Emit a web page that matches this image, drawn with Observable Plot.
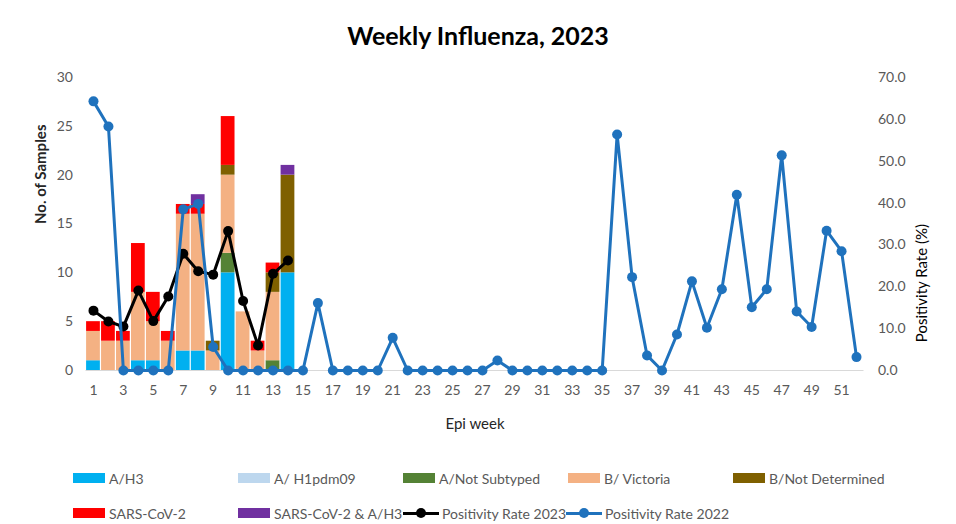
<!DOCTYPE html>
<html>
<head>
<meta charset="utf-8">
<script src="https://cdn.jsdelivr.net/npm/d3@7"></script>
<script src="https://cdn.jsdelivr.net/npm/@observablehq/plot@0.6"></script>
<style>
  body { margin: 0; background: #fff; font-family: Lato, "Liberation Sans", sans-serif; }
  #wrap { width: 956px; height: 524px; position: relative; overflow: hidden; }
  #title { height: 60px; line-height: 70px; text-align: center; font-weight: bold; font-size: 25px; color: #000; }
  #legend { position: absolute; left: 0; top: 0; width: 956px; height: 524px; pointer-events: none; }
  .item { position: absolute; display: flex; align-items: center; font-size: 14px; color: #595959; white-space: nowrap; height: 20px; }
  .sw { width: 32px; height: 10px; margin-right: 4px; }
  .ln { width: 36px; height: 12px; margin-right: 3px; position: relative; }
  .ln i { position: absolute; left: 0; right: 0; top: 5px; height: 3px; }
  .ln b { position: absolute; left: 13px; top: 1px; width: 10px; height: 10px; border-radius: 50%; }
</style>
</head>
<body>
<div id="wrap">
  <div id="title">Weekly Influenza, 2023</div>
  <div id="chart"></div>
  <div id="legend"></div>
</div>
<script>
const weeks = d3.range(1, 53);
const barWeeks = [1,2,3,4,5,6,7,8,9,10,11,12,13,14];
const seriesNames = ["A/H3", "A/ H1pdm09", "A/Not Subtyped", "B/ Victoria", "B/Not Determined", "SARS-CoV-2", "SARS-CoV-2 & A/H3"];
const seriesColors = ["#00b0f0", "#bdd7ee", "#548235", "#f4b183", "#7f6000", "#ff0000", "#7030a0"];
// counts per week 1..14
const aH3        = [1,0,0,1,1,0,2,2,0,10,0,0,0,10];
const aH1pdm09   = [0,0,0,0,0,0,0,0,0,0,0,0,0,0];
const aNotSub    = [0,0,0,0,0,0,0,0,0,2,0,0,1,0];
const bVictoria  = [3,3,3,7,4,3,14,14,2,8,6,2,7,0];
const bNotDet    = [0,0,0,0,0,0,0,0,1,1,0,0,2,10];
const sarsCov2   = [1,2,1,5,3,1,1,1,0,5,0,1,1,0];
const sarsAndH3  = [0,0,0,0,0,0,0,1,0,0,0,0,0,1];
const seriesValues = [aH3, aH1pdm09, aNotSub, bVictoria, bNotDet, sarsCov2, sarsAndH3];

const pos2023 = [14.3,11.7,10.5,19.1,11.8,17.7,27.9,23.7,22.9,33.3,16.6,6.0,23.1,26.3];
const pos2022 = [64.3,58.3,0,0,0,0,38.5,39.8,5.6,0,0,0,0,0,0,16.1,0,0,0,0,7.8,0,0,0,0,0,0,2.4,0,0,0,0,0,0,0,56.4,22.3,3.6,0,8.6,21.3,10.2,19.4,42.0,15.1,19.4,51.4,14.1,10.4,33.4,28.5,3.2];

const xTicks = d3.range(1, 52, 2);
const yTicks = [0,5,10,15,20,25,30];
const rTicks = [0,10,20,30,40,50,60,70];

const K = 30 / 70; // right axis -> left axis units

// stacked rows
const rows = [];
barWeeks.forEach((w, i) => {
  let acc = 0;
  seriesNames.forEach((s, j) => {
    const v = seriesValues[j][i];
    if (v > 0) rows.push({week: w, series: s, y1: acc, y2: acc + v});
    acc += v;
  });
});
const line2023 = barWeeks.map((w, i) => ({week: w, v: pos2023[i] * K}));
const line2022 = weeks.map((w, i) => ({week: w, v: pos2022[i] * K}));

const gray = "#595959";
const chart = Plot.plot({
  width: 956,
  height: 390,
  marginLeft: 85.5,
  marginRight: 92.5,
  marginTop: 17,
  marginBottom: 80,
  style: {fontFamily: "Lato, 'Liberation Sans', sans-serif", fontSize: "14px", color: gray, background: "#fff"},
  x: {domain: [0.5, 52.5], axis: null},
  y: {domain: [0, 30], axis: null},
  color: {domain: seriesNames, range: seriesColors},
  marks: [
    Plot.ruleY([0], {stroke: "#d9d9d9", strokeWidth: 1}),
    Plot.rect(rows, {x1: d => d.week - 0.46, x2: d => d.week + 0.46, y1: "y1", y2: "y2", fill: "series"}),
    Plot.line(line2023, {x: "week", y: "v", stroke: "#000", strokeWidth: 3}),
    Plot.dot(line2023, {x: "week", y: "v", r: 5, fill: "#000"}),
    Plot.line(line2022, {x: "week", y: "v", stroke: "#1f72bd", strokeWidth: 3}),
    Plot.dot(line2022, {x: "week", y: "v", r: 5, fill: "#1f72bd"}),
    Plot.axisY(yTicks, {anchor: "left", tickSize: 0, tickPadding: 13, label: null, fill: gray}),
    Plot.axisY(rTicks.map(t => t * K), {anchor: "right", tickSize: 0, tickPadding: 14, label: null, fill: gray, tickFormat: d => (d / K).toFixed(1)}),
    Plot.axisX(xTicks, {anchor: "bottom", tickSize: 0, tickPadding: 15, label: null, fill: gray}),
    Plot.text(["No. of Samples"], {frameAnchor: "left", dx: -45, rotate: -90, fontSize: 15, fontWeight: "bold", fill: "#262626"}),
    Plot.text(["Positivity Rate (%)"], {frameAnchor: "right", dx: 58, rotate: -90, fontSize: 15, fill: "#000"}),
    Plot.text(["Epi week"], {frameAnchor: "bottom", dy: 58, fontSize: 15, fill: "#262626"})
  ]
});
document.getElementById("chart").appendChild(chart);

// legend
const legend = document.getElementById("legend");
const colX = [73, 238, 403, 568, 733];
const items = [
  {type: "sw", label: seriesNames[0], color: seriesColors[0], x: colX[0], y: 478},
  {type: "sw", label: seriesNames[1], color: seriesColors[1], x: colX[1], y: 478},
  {type: "sw", label: seriesNames[2], color: seriesColors[2], x: colX[2], y: 478},
  {type: "sw", label: seriesNames[3], color: seriesColors[3], x: colX[3], y: 478},
  {type: "sw", label: seriesNames[4], color: seriesColors[4], x: colX[4], y: 478},
  {type: "sw", label: seriesNames[5], color: seriesColors[5], x: colX[0], y: 513},
  {type: "sw", label: seriesNames[6], color: seriesColors[6], x: colX[1], y: 513},
  {type: "ln", label: "Positivity Rate 2023", color: "#000", x: 403, y: 513},
  {type: "ln", label: "Positivity Rate 2022", color: "#1f72bd", x: 566, y: 513}
];
items.forEach(it => {
  const d = document.createElement("div");
  d.className = "item";
  d.style.left = it.x + "px";
  d.style.top = (it.y - 10) + "px";
  if (it.type === "sw") {
    d.innerHTML = `<span class="sw" style="background:${it.color}"></span><span>${it.label}</span>`;
  } else {
    d.innerHTML = `<span class="ln"><i style="background:${it.color}"></i><b style="background:${it.color}"></b></span><span>${it.label}</span>`;
  }
  legend.appendChild(d);
});
</script>
</body>
</html>
